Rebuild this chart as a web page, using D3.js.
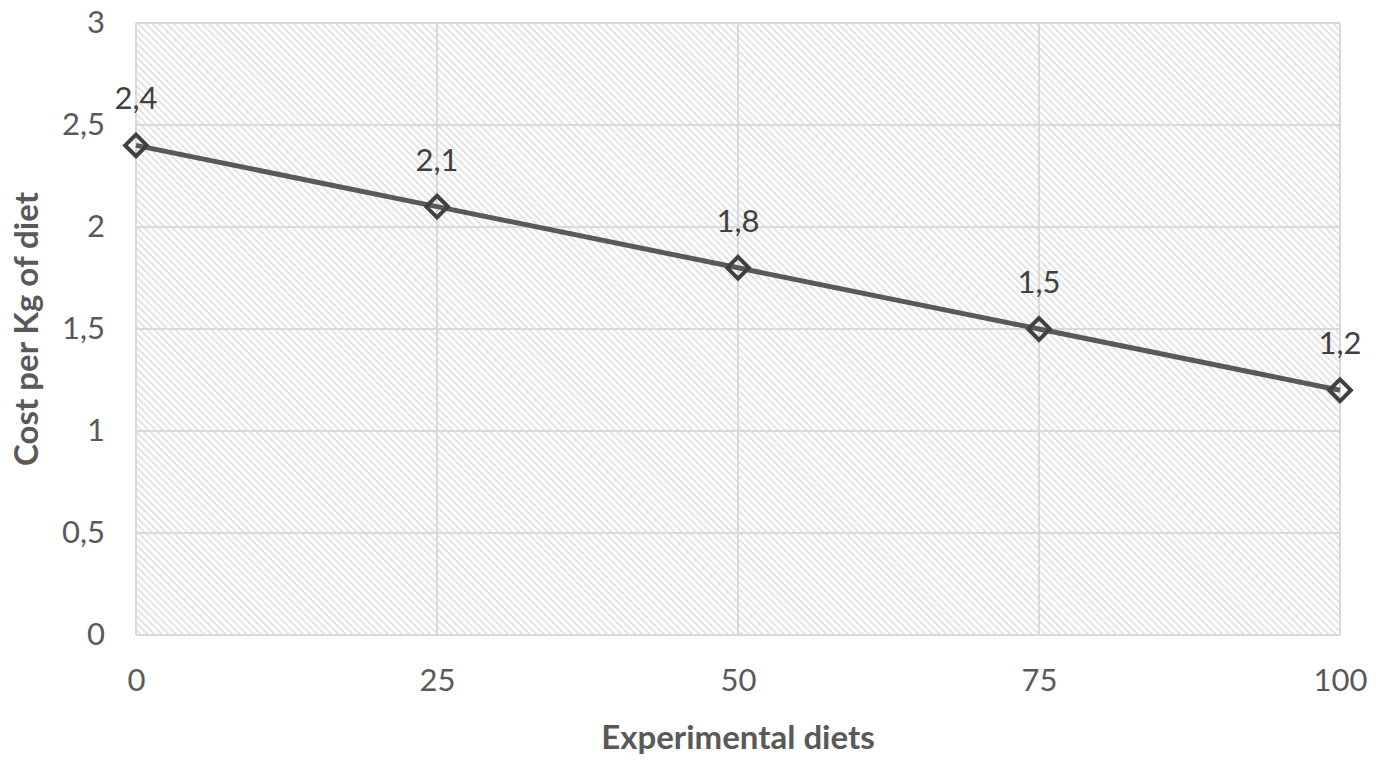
<!DOCTYPE html>
<html lang="en">
<head>
<meta charset="utf-8">
<title>Cost per Kg of diet</title>
<script src="https://cdn.jsdelivr.net/npm/d3@7"></script>
<style>
  body { margin: 0; background: #fff; }
  text { font-family: Lato, "Liberation Sans", sans-serif; }
  .tick text { fill: #595959; font-size: 31px; }
  .axisTitle { fill: #595959; font-size: 33px; font-weight: bold; }
  .lbl { fill: #404040; font-size: 31px; }
</style>
</head>
<body>
<div class="chart"></div>
<script>
var diets = [0, 25, 50, 75, 100];
var cost = [2.4, 2.1, 1.8, 1.5, 1.2];
var costLabels = ["2,4", "2,1", "1,8", "1,5", "1,2"];
var yTicks = [0, 0.5, 1, 1.5, 2, 2.5, 3];

var w = 1388, h = 764;
var plotL = 136, plotR = 1340, plotT = 23, plotB = 635;

var svg = d3.select("div.chart").append("svg")
  .attr("width", w).attr("height", h);

// hatch pattern for the plot background
var pat = svg.append("defs").append("pattern")
  .attr("id", "hatch")
  .attr("patternUnits", "userSpaceOnUse")
  .attr("width", 5).attr("height", 5)
  .attr("patternTransform", "rotate(-45)");
pat.append("line")
  .attr("x1", 1).attr("y1", 0).attr("x2", 1).attr("y2", 5)
  .attr("stroke", "#dcdcdc").attr("stroke-width", 1.6);

var x = d3.scaleLinear().domain([0, 100]).range([plotL, plotR]);
var y = d3.scaleLinear().domain([0, 3]).range([plotB, plotT]);

svg.append("rect")
  .attr("x", plotL).attr("y", plotT)
  .attr("width", plotR - plotL).attr("height", plotB - plotT)
  .attr("fill", "url(#hatch)");

// gridlines
svg.append("g").selectAll("line").data(yTicks).enter().append("line")
  .attr("x1", plotL).attr("x2", plotR)
  .attr("y1", d => y(d)).attr("y2", d => y(d))
  .attr("stroke", "#d9d9d9").attr("stroke-width", 2);
svg.append("g").selectAll("line").data(diets).enter().append("line")
  .attr("y1", plotT).attr("y2", plotB)
  .attr("x1", d => x(d)).attr("x2", d => x(d))
  .attr("stroke", "#d9d9d9").attr("stroke-width", 2);

// axes (labels only)
var yAxis = svg.append("g")
  .attr("transform", "translate(" + plotL + ",0)")
  .call(d3.axisLeft(y).tickValues(yTicks).tickSize(0).tickPadding(31)
    .tickFormat(d => String(d).replace(".", ",")));
yAxis.select(".domain").remove();

var xAxis = svg.append("g")
  .attr("transform", "translate(0," + plotB + ")")
  .call(d3.axisBottom(x).tickValues(diets).tickSize(0).tickPadding(34));
xAxis.select(".domain").remove();

// line
var line = d3.line().x((d, i) => x(diets[i])).y(d => y(d));
svg.append("path").datum(cost)
  .attr("d", line)
  .attr("fill", "none")
  .attr("stroke", "#595959")
  .attr("stroke-width", 5);

// diamond markers
svg.append("g").selectAll("path").data(cost).enter().append("path")
  .attr("d", d3.symbol().type(d3.symbolDiamond2).size(300))
  .attr("transform", (d, i) => "translate(" + x(diets[i]) + "," + y(d) + ")")
  .attr("fill", "none")
  .attr("stroke", "#404040")
  .attr("stroke-width", 4);

// data labels
svg.append("g").selectAll("text").data(cost).enter().append("text")
  .attr("class", "lbl")
  .attr("x", (d, i) => x(diets[i]))
  .attr("y", d => y(d) - 36)
  .attr("text-anchor", "middle")
  .text((d, i) => costLabels[i]);

svg.append("text").attr("class", "axisTitle")
  .attr("x", (plotL + plotR) / 2).attr("y", 749)
  .attr("text-anchor", "middle")
  .text("Experimental diets");

svg.append("text").attr("class", "axisTitle")
  .attr("transform", "translate(38," + (plotT + plotB) / 2 + ") rotate(-90)")
  .attr("text-anchor", "middle")
  .text("Cost per Kg of diet");
</script>
</body>
</html>
